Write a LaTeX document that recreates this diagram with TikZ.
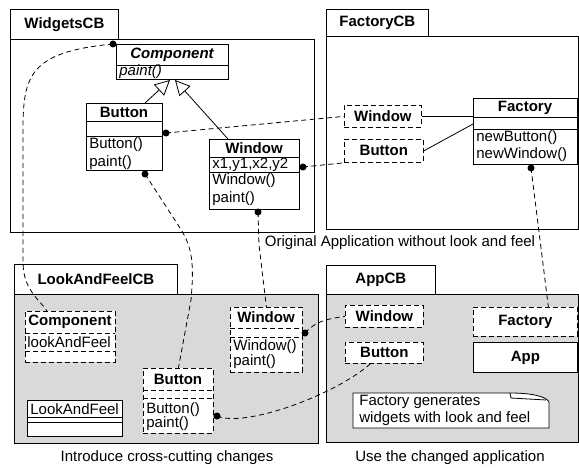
\documentclass[tikz,border=0pt]{standalone}
\usepackage{fontspec}
\setmainfont{Liberation Sans}
\usetikzlibrary{arrows.meta}
\definecolor{cbgray}{RGB}{217,217,217}

\begin{document}
\begin{tikzpicture}[x=1pt,y=-1pt,line width=0.8pt,
  font=\fontsize{15}{17}\selectfont,
  tab/.style={draw,fill=white,anchor=north west,inner sep=0pt,
    font=\fontsize{15}{17}\selectfont\bfseries},
  frame/.style={draw,anchor=north west,inner sep=0pt},
  cls/.style={draw,fill=white,anchor=north west,inner sep=0pt},
  dcls/.style={cls,dash pattern=on 5pt off 3pt},
  head/.style={inner sep=0pt,font=\fontsize{15}{17}\selectfont\bfseries},
  txt/.style={inner sep=0pt,anchor=west},
  link/.style={dash pattern=on 5pt off 3.5pt},
  inherit/.style={-{Triangle[open,length=15pt,width=15pt]}}]
\useasboundingbox (0,0) rectangle (579,468);
% WidgetsCB
\node[frame,minimum width=304pt,minimum height=193pt] (wFrame) at (10,39) {};
\node[tab,minimum width=108pt,minimum height=30pt] (wTab) at (10,9) {WidgetsCB};
\node[cls,minimum width=112pt,minimum height=35pt] (wComp) at (116,44) {};
\draw (116,65) -- (228,65);
\node[head] (wCompH) at (172,54.5) {\itshape Component};
\node[txt] (wCompM) at (119,72) {\itshape paint()};
\node[cls,minimum width=76pt,minimum height=67pt] (wBtn) at (86,103) {};
\draw (86,121) -- (162,121);
\draw (86,136) -- (162,136);
\node[head] (wBtnH) at (124,112) {Button};
\node[txt] (wBtnC) at (89,145) {Button()};
\node[txt] (wBtnM) at (89,163) {paint()};
\node[cls,minimum width=90pt,minimum height=70pt] (wWin) at (209,139) {};
\draw (209,157) -- (299,157);
\draw (209,172) -- (299,172);
\node[head] (wWinH) at (254,148) {Window};
\node[txt] (wWinA) at (212,164.5) {x1,y1,x2,y2};
\node[txt] (wWinC) at (212,181) {Window()};
\node[txt] (wWinM) at (212,199) {paint()};
\draw[inherit] (wBtn.north -| 145,0) -- (170,80);
\draw[inherit] (wWin.north -| 228,0) -- (175,80);
% FactoryCB
\node[frame,minimum width=252pt,minimum height=193pt] (fFrame) at (326,36) {};
\node[tab,minimum width=102pt,minimum height=27pt] (fTab) at (326,9) {FactoryCB};
\node[dcls,minimum width=77pt,minimum height=22pt,font=\fontsize{15}{17}\selectfont\bfseries] (fWin) at (344,105) {Window};
\node[dcls,minimum width=79pt,minimum height=23pt,font=\fontsize{15}{17}\selectfont\bfseries] (fBtn) at (344,139) {Button};
\node[cls,minimum width=104pt,minimum height=66pt] (fFac) at (473,98) {};
\draw (473,117) -- (577,117);
\draw (473,129) -- (577,129);
\node[head] (fFacH) at (525,107.5) {Factory};
\node[txt] (fFacB) at (476,138) {newButton()};
\node[txt] (fFacW) at (476,155) {newWindow()};
\draw (fWin.east) -- (fWin.east -| fFac.west);
\draw (fBtn.east) -- ([yshift=-26pt]fFac.north west);
\node (cap1) at (400,243) {Original Application without look and feel};
% LookAndFeelCB
\node[frame,fill=cbgray,minimum width=304pt,minimum height=149pt] (lFrame) at (14,294) {};
\node[tab,minimum width=163pt,minimum height=30pt] (lTab) at (14,264) {LookAndFeelCB};
\node[dcls,minimum width=90pt,minimum height=51pt] (lComp) at (25,311) {};
\draw[dash pattern=on 5pt off 3pt] (25,333) -- (115,333);
\draw[dash pattern=on 5pt off 3pt] (25,351) -- (115,351);
\node[head] (lCompH) at (70,322) {Component};
\node[txt] (lCompA) at (27,342) {lookAndFeel};
\node[cls,minimum width=95pt,minimum height=36pt] (lLaf) at (27,400) {};
\draw (27,417) -- (122,417);
\draw (27,422) -- (122,422);
\node[txt] (lLafH) at (30,409) {LookAndFeel};
\node[dcls,minimum width=70pt,minimum height=65pt] (lBtn) at (143,368) {};
\draw[dash pattern=on 5pt off 3pt] (143,390) -- (213,390);
\draw[dash pattern=on 5pt off 3pt] (143,398) -- (213,398);
\node[head] (lBtnH) at (178,379) {Button};
\node[txt] (lBtnC) at (146,410) {Button()};
\node[txt] (lBtnM) at (146,424) {paint()};
\node[dcls,minimum width=72pt,minimum height=65pt] (lWin) at (230,307) {};
\draw[dash pattern=on 5pt off 3pt] (230,328) -- (302,328);
\draw[dash pattern=on 5pt off 3pt] (230,337) -- (302,337);
\node[head] (lWinH) at (266,317.5) {Window};
\node[txt] (lWinC) at (233,347) {Window()};
\node[txt] (lWinM) at (233,362) {paint()};
\node (cap2) at (167,458) {Introduce cross-cutting changes};
% AppCB
\node[frame,fill=cbgray,minimum width=252pt,minimum height=148pt] (aFrame) at (326,294) {};
\node[tab,minimum width=109pt,minimum height=29pt] (aTab) at (326,265) {AppCB};
\node[dcls,minimum width=78pt,minimum height=22pt,font=\fontsize{15}{17}\selectfont\bfseries] (aWin) at (345,305) {Window};
\node[dcls,minimum width=78pt,minimum height=21pt,font=\fontsize{15}{17}\selectfont\bfseries] (aBtn) at (345,342) {Button};
\node[dcls,minimum width=104pt,minimum height=29pt,font=\fontsize{15}{17}\selectfont\bfseries] (aFac) at (473,307) {Factory};
\node[cls,minimum width=104pt,minimum height=30pt,font=\fontsize{15}{17}\selectfont\bfseries] (aApp) at (473,342) {App};
\draw[fill=white] (353,393) -- (510,393) .. controls (530,393) and (546,396) .. (549,402)
  -- (549,428) -- (353,428) -- cycle;
\draw (510,393) -- (511,398) -- (546,400);
\node[txt,align=left,anchor=north west] (note) at (359,395) {Factory generates\\widgets with look and feel};
\node (cap3) at (450,458) {Use the changed application};
% dots
\coordinate (dComp) at ([xshift=-3pt]wComp.north west);
\coordinate (dBtnR) at (166,133);
\coordinate (dBtnB) at (145,174);
\coordinate (dWinR) at (303,167);
\coordinate (dWinB) at (258,212);
\coordinate (dFac) at (531,168);
\coordinate (dLWin) at (305,333);
\coordinate (dLBtn) at (217,416);
\foreach \d in {dComp,dBtnR,dBtnB,dWinR,dWinB,dFac,dLWin,dLBtn}
  \fill (\d) circle (3.5pt);
% dashed links
\draw[link] (dComp) .. controls (30,52) and (23,75) .. (23,130) -- (23,262)
  .. controls (23,290) and (40,300) .. ([xshift=22pt]lComp.north west);
\draw[link] (dBtnB) -- (180,228) .. controls (193,248) and (194,265) .. (191,300)
  -- (lBtn.north);
\draw[link] (dWinB) -- (259,245) -- (lWin.north);
\draw[link] (dFac) -- ([xshift=23pt]aFac.north);
\draw[link] (dLWin) .. controls (315,322) and (325,319) .. (aWin.west);
\draw[link] (dLBtn) .. controls (245,428) and (335,395) .. ([xshift=-14pt]aBtn.south);
\draw[link] (dBtnR) -- (fWin.west);
\draw[link] (dWinR) -- (fBtn.south west);
\end{tikzpicture}
\end{document}
